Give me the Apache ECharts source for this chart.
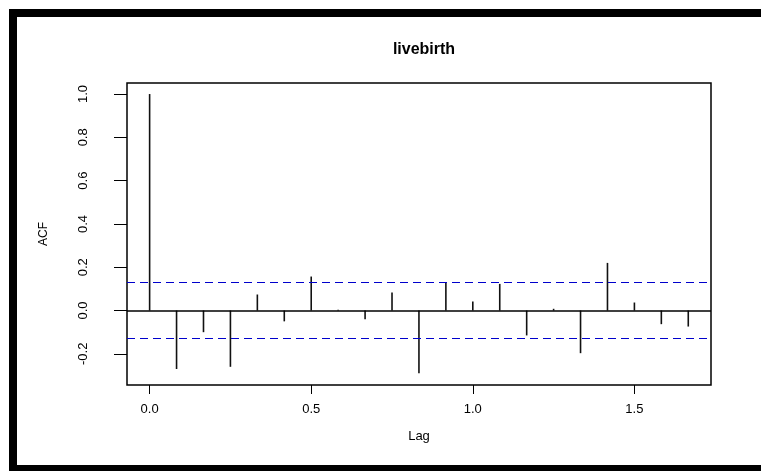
<!DOCTYPE html>
<html>
<head>
<meta charset="utf-8">
<script src="https://cdn.jsdelivr.net/npm/echarts@6/dist/echarts.min.js"></script>
<style>
html,body{margin:0;padding:0;background:#fff;}
#c{width:761px;height:471px;}
</style>
</head>
<body>
<div id="c"></div>
<script>
// Data
const title = "livebirth";
const lags = [0, 1/12, 2/12, 3/12, 4/12, 5/12, 6/12, 7/12, 8/12, 9/12, 10/12, 11/12, 1, 13/12, 14/12, 15/12, 16/12, 17/12, 18/12, 19/12, 20/12];
const acf = [1.0, -0.27, -0.10, -0.26, 0.074, -0.05, 0.157, 0.004, -0.04, 0.083, -0.29, 0.128, 0.042, 0.123, -0.115, 0.008, -0.197, 0.22, 0.037, -0.063, -0.074];
const confBound = 0.126;
const xTicks = [0, 0.5, 1.0, 1.5];
const yTicks = [-0.2, 0, 0.2, 0.4, 0.6, 0.8, 1.0];

const chart = echarts.init(document.getElementById('c'), null, {renderer: 'canvas'});
const font = 'Liberation Sans, Arial, sans-serif';
chart.setOption({
  animation: false,
  backgroundColor: '#fff',
  title: {
    text: title, left: 419, top: 37, textAlign: 'center',
    textStyle: {fontFamily: font, fontSize: 16, fontWeight: 'bold', color: '#000'}
  },
  grid: {
    left: 127, top: 83, right: 50, bottom: 86,
    show: true, borderColor: '#000', borderWidth: 1.5, backgroundColor: 'transparent'
  },
  xAxis: {
    type: 'value', min: -0.07, max: 1.737,
    name: 'Lag', nameLocation: 'middle', nameGap: 45,
    nameTextStyle: {fontFamily: font, fontSize: 13, color: '#000'},
    splitLine: {show: false},
    axisLine: {show: false, onZero: false},
    axisTick: {show: true, customValues: xTicks, length: 9, lineStyle: {color: '#000', width: 1}},
    axisLabel: {customValues: xTicks, margin: 18, fontFamily: font, fontSize: 13, color: '#000',
      formatter: v => v.toFixed(1)}
  },
  yAxis: {
    type: 'value', min: -0.344, max: 1.051,
    name: 'ACF', nameLocation: 'middle', nameGap: 77, nameRotate: 90,
    nameTextStyle: {fontFamily: font, fontSize: 12, color: '#000'},
    splitLine: {show: false},
    axisLine: {show: false, onZero: false},
    axisTick: {show: true, customValues: yTicks, length: 13, lineStyle: {color: '#000', width: 1}},
    axisLabel: {customValues: yTicks, rotate: 90, margin: 37, fontFamily: font, fontSize: 13, color: '#000',
      formatter: v => v.toFixed(1)}
  },
  graphic: [
    {type: 'rect', shape: {x: 9, y: 9, width: 752, height: 8}, style: {fill: '#000'}},
    {type: 'rect', shape: {x: 9, y: 9, width: 8, height: 462}, style: {fill: '#000'}},
    {type: 'rect', shape: {x: 9, y: 465, width: 752, height: 6}, style: {fill: '#000'}}
  ],
  series: [{
    type: 'custom',
    data: lags.map((l, i) => [l, acf[i]]),
    renderItem: function (params, api) {
      const p0 = api.coord([api.value(0), 0]);
      const p1 = api.coord([api.value(0), api.value(1)]);
      return {type: 'line', shape: {x1: p0[0], y1: p0[1], x2: p1[0], y2: p1[1]},
        style: {stroke: '#111', lineWidth: 1.6}};
    },
    markLine: {
      silent: true, symbol: 'none', label: {show: false},
      data: [
        {yAxis: 0, lineStyle: {color: '#000', type: 'solid', width: 1.5}},
        {yAxis: confBound, lineStyle: {color: '#0000cc', type: [8, 5], width: 1}},
        {yAxis: -confBound, lineStyle: {color: '#0000cc', type: [8, 5], width: 1}}
      ]
    }
  }]
});
</script>
</body>
</html>
